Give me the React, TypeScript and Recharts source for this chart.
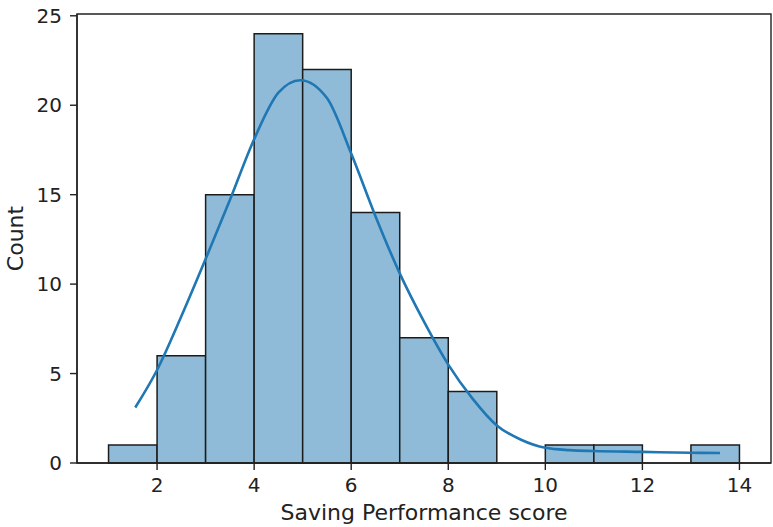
import React from 'react';
import { ComposedChart, Line, XAxis, YAxis, ReferenceArea } from 'recharts';

// histogram bins (width 1) and counts
const binStarts = [1, 2, 3, 4, 5, 6, 7, 8, 9, 10, 11, 12, 13];
const counts = [1, 6, 15, 24, 22, 14, 7, 4, 0, 1, 1, 0, 1];

// kde curve (scaled to counts)
const kdeX = [1.55, 2.0, 2.5, 3.0, 3.5, 4.0, 4.5, 4.95, 5.5, 6.0, 6.5, 7.0, 7.5, 8.0, 8.5, 9.0, 9.5, 10.0, 10.5, 11.0, 12.0, 13.0, 13.6];
const kdeY = [3.1, 5.2, 8.2, 11.4, 14.7, 18.1, 20.7, 21.4, 20.4, 17.3, 13.8, 10.6, 7.9, 5.5, 3.6, 2.1, 1.3, 0.85, 0.72, 0.67, 0.62, 0.57, 0.56];

const xTicks = [2, 4, 6, 8, 10, 12, 14];
const yTicks = [0, 5, 10, 15, 20, 25];
const xDomain = [0.35, 14.65];
const yDomain = [0, 25.1];

const FONT = '"DejaVu Sans", sans-serif';
const INK = '#222';

export default function App() {
  const kdeData = kdeX.map((x, i) => ({ x, kde: kdeY[i] }));

  return (
    <div style={{ position: 'absolute', left: 0, top: 0, background: '#fff' }}>
      <ComposedChart
        width={773}
        height={527}
        data={kdeData}
        margin={{ top: 14, right: 2, bottom: 0, left: 0 }}
        style={{ fontFamily: FONT }}
      >
        <XAxis
          dataKey="x"
          type="number"
          domain={xDomain}
          allowDataOverflow
          ticks={xTicks}
          interval={0}
          height={64}
          tickSize={7}
          tickMargin={8}
          axisLine={{ stroke: INK, strokeWidth: 1.4 }}
          tickLine={{ stroke: INK, strokeWidth: 1.4 }}
          tick={{ fill: INK, fontSize: 20, fontFamily: FONT }}
          label={{
            value: 'Saving Performance score',
            position: 'insideBottom',
            offset: 7,
            style: { fill: INK, fontSize: 22, fontFamily: FONT },
          }}
        />
        <YAxis
          type="number"
          domain={yDomain}
          allowDataOverflow
          ticks={yTicks}
          interval={0}
          width={77}
          tickSize={7}
          tickMargin={8}
          axisLine={{ stroke: INK, strokeWidth: 1.4 }}
          tickLine={{ stroke: INK, strokeWidth: 1.4 }}
          tick={{ fill: INK, fontSize: 20, fontFamily: FONT }}
          label={{
            value: 'Count',
            angle: -90,
            position: 'insideLeft',
            offset: 15,
            style: { fill: INK, fontSize: 22, fontFamily: FONT, textAnchor: 'middle' },
          }}
        />
        {/* histogram bars */}
        {binStarts.map((s, i) =>
          counts[i] > 0 ? (
            <ReferenceArea
              key={s}
              x1={s}
              x2={s + 1}
              y1={0}
              y2={counts[i]}
              fill="#8fbbd9"
              fillOpacity={1}
              stroke="#1c1c1c"
              strokeWidth={1.5}
              ifOverflow="visible"
            />
          ) : null
        )}
        {/* axes frame (top / right spines) */}
        <ReferenceArea
          x1={xDomain[0]}
          x2={xDomain[1]}
          y1={yDomain[0]}
          y2={yDomain[1]}
          fill="none"
          stroke={INK}
          strokeWidth={1.4}
          ifOverflow="visible"
        />
        <Line
          dataKey="kde"
          type="monotone"
          stroke="#1f77b4"
          strokeWidth={2.6}
          dot={false}
          activeDot={false}
          isAnimationActive={false}
        />
      </ComposedChart>
    </div>
  );
}
